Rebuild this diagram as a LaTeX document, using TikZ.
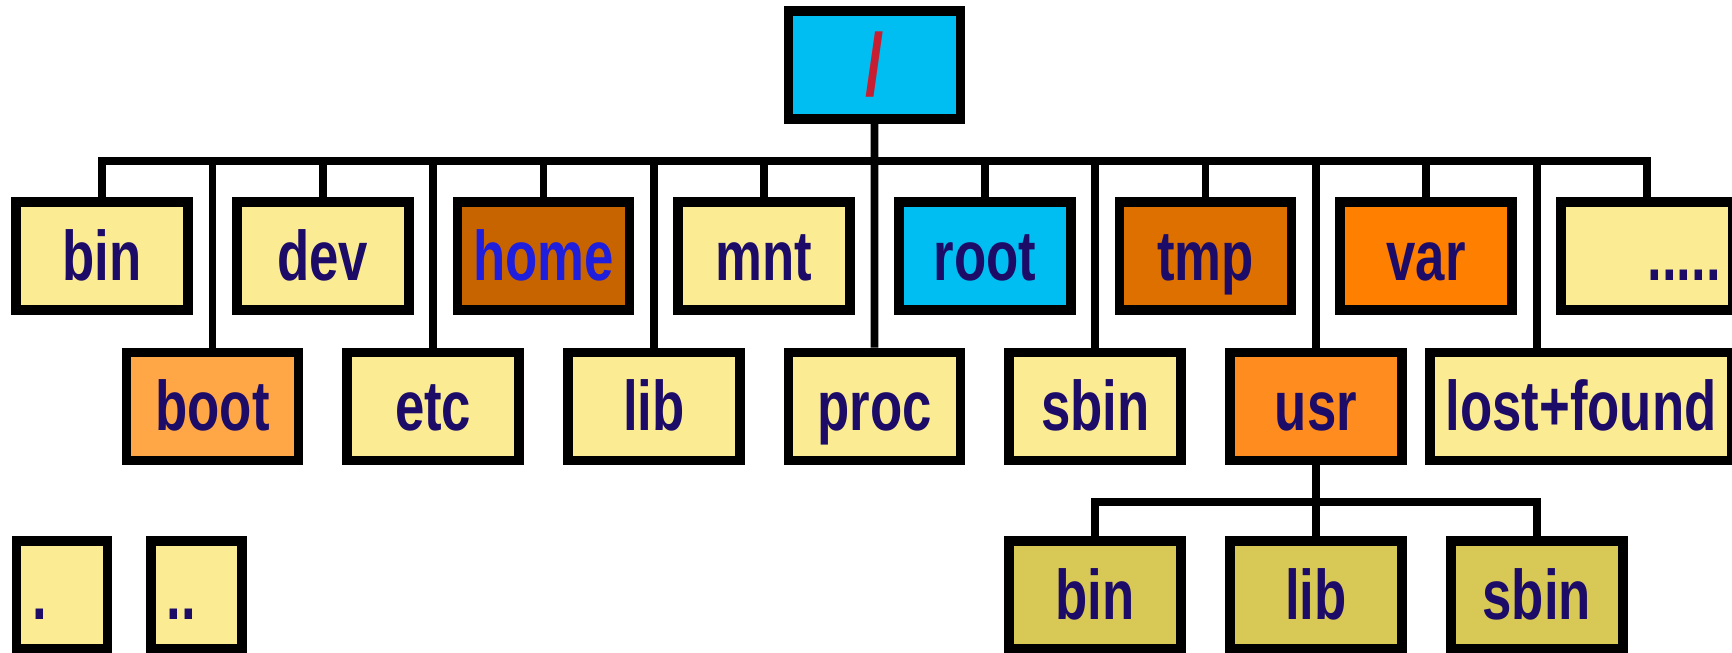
\documentclass[tikz,border=0pt]{standalone}
\usepackage{fontspec}
\setmainfont{Liberation Sans}[FakeStretch=0.75]
\usetikzlibrary{positioning}

\definecolor{folderyellow}{RGB}{251,236,148}
\definecolor{rootcyan}{RGB}{0,190,242}
\definecolor{homebrown}{RGB}{200,100,0}
\definecolor{tmporange}{RGB}{222,112,0}
\definecolor{varorange}{RGB}{255,128,0}
\definecolor{bootorange}{RGB}{255,166,70}
\definecolor{usrorange}{RGB}{255,140,30}
\definecolor{subolive}{RGB}{216,200,86}
\definecolor{navytext}{RGB}{28,12,104}
\definecolor{homeblue}{RGB}{30,30,220}
\definecolor{slashred}{RGB}{200,30,50}

\tikzset{%
    rootdir/.style = {draw, line width=2.75pt, rectangle, fill=rootcyan,
        minimum width=1.72cm, minimum height=1.08cm, text=slashred,
        font=\fontsize{25}{30}\selectfont\bfseries},
    dir/.style     = {draw, line width=2.75pt, rectangle, fill=folderyellow,
        minimum width=1.72cm, minimum height=1.08cm, inner sep=0.1cm,
        text height=0.6cm, text depth=0.12cm, text=navytext,
        font=\fontsize{20}{24}\selectfont\bfseries},
    subdir/.style  = {dir, fill=subolive},
    dotdir/.style  = {dir, minimum width=0.91cm, text width=0.6cm, align=left},
    wire/.style    = {draw, line width=2.2pt},
}

\begin{document}
\begin{tikzpicture}[node distance=2.207cm]
    \useasboundingbox (0,0) rectangle (17.32,-6.52);

    % the root directory on top
    \node [rootdir] (slash) at (8.746,-0.65) {/};

    % first row of directories
    \node [dir] (bin) at (1.02,-2.56) {bin};
    \node [dir, right of = bin] (dev) {dev};
    \node [dir, fill=homebrown, text=homeblue, right of = dev] (home) {home};
    \node [dir, right of = home] (mnt) {mnt};
    \node [dir, fill=rootcyan, right of = mnt] (root) {root};
    \node [dir, fill=tmporange, right of = root] (tmp) {tmp};
    \node [dir, fill=varorange, right of = tmp] (var) {var};
    \node [dir, right of = var, text width=1.48cm, align=right] (more) {.....};

    % second row, shifted half a step
    \node [dir, fill=bootorange] (boot) at (2.125,-4.065) {boot};
    \node [dir, right of = boot] (etc) {etc};
    \node [dir, right of = etc] (lib) {lib};
    \node [dir, right of = lib] (proc) {proc};
    \node [dir, right of = proc] (sbin) {sbin};
    \node [dir, fill=usrorange, right of = sbin] (usr) {usr};
    \node [dir, right of = usr, xshift = 0.443cm, minimum width=3.02cm] (lost_found) {lost+found};

    % inside usr
    \node [subdir, below of = sbin, yshift = 0.322cm] (usr_bin) {bin};
    \node [subdir, right of = usr_bin] (usr_lib) {lib};
    \node [subdir, right of = usr_lib] (usr_sbin) {sbin};

    % current and parent entries
    \node [dotdir] (here) at (0.62,-5.95) {.};
    \node [dotdir] (up) at (1.965,-5.95) {..};

    % the lines of the tree
    \coordinate (bus) at (0,-1.61);
    \coordinate (usr_bus) at (0,-5.02);
    \coordinate (lf_top) at ([xshift = -0.443cm]lost_found.north);

    \draw [wire] (bin.north) -- (bin.north |- bus) -- (more.north |- bus) -- (more.north);
    \draw [wire] (slash.south) -- (proc.north);
    \foreach \d in {dev,home,mnt,root,tmp,var,boot,etc,lib,sbin,usr}
        \draw [wire] (\d.north) -- (\d.north |- bus);
    \draw [wire] (lf_top) -- (lf_top |- bus);

    \draw [wire] (usr_bin.north) -- (usr_bin.north |- usr_bus) -- (usr_sbin.north |- usr_bus) -- (usr_sbin.north);
    \draw [wire] (usr.south) -- (usr_lib.north);
\end{tikzpicture}
\end{document}
